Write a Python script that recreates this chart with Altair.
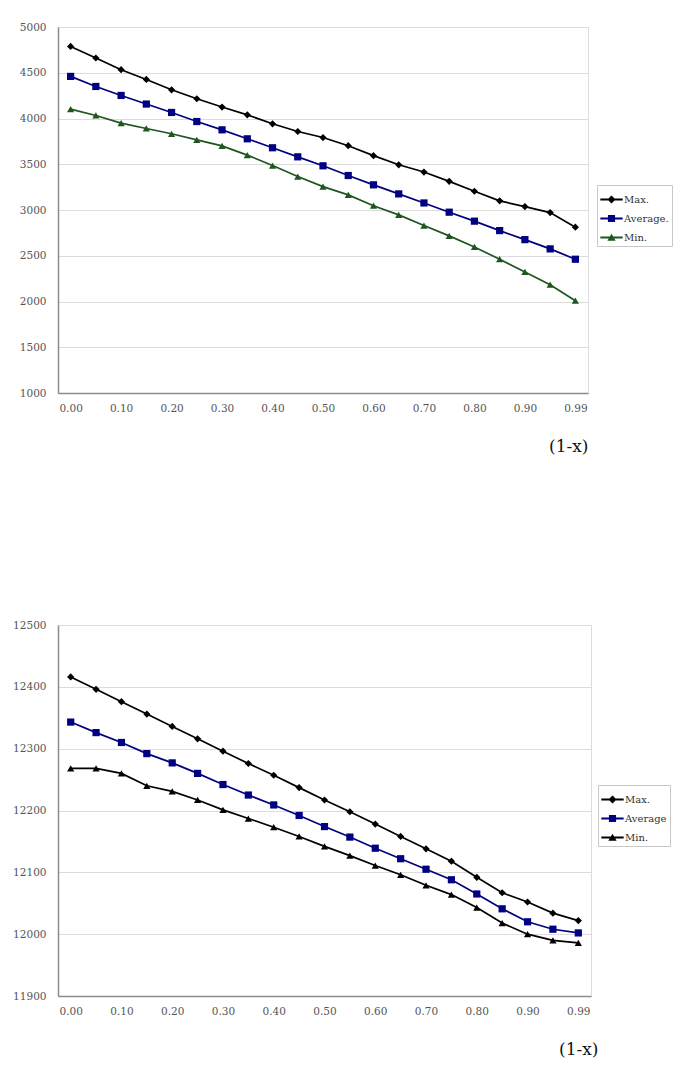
import altair as alt
import pandas as pd

x_labels = ["0.00", "0.05", "0.10", "0.15", "0.20", "0.25", "0.30", "0.35", "0.40", "0.45",
            "0.50", "0.55", "0.60", "0.65", "0.70", "0.75", "0.80", "0.85", "0.90", "0.95", "0.99"]
axis_labels = ["0.00", "0.10", "0.20", "0.30", "0.40", "0.50", "0.60", "0.70", "0.80", "0.90", "0.99"]

top_names = ["Max.", "Average.", "Min."]
top_max = [4788, 4661, 4533, 4427, 4314, 4216, 4125, 4040, 3942, 3858, 3792,
           3703, 3594, 3494, 3415, 3313, 3205, 3100, 3037, 2972, 2812]
top_avg = [4460, 4350, 4252, 4158, 4066, 3967, 3876, 3778, 3680, 3581, 3483,
           3377, 3275, 3176, 3077, 2976, 2878, 2775, 2676, 2575, 2462]
top_min = [4103, 4033, 3950, 3891, 3833, 3767, 3701, 3600, 3486, 3366, 3256,
           3165, 3047, 2947, 2830, 2717, 2596, 2462, 2323, 2184, 2009]
top_ticks = [1000, 1500, 2000, 2500, 3000, 3500, 4000, 4500, 5000]

bot_names = ["Max.", "Average", "Min."]
bot_max = [12416, 12396, 12376, 12356, 12336, 12316, 12296, 12276, 12257, 12237, 12217,
           12198, 12178, 12158, 12138, 12118, 12092, 12067, 12052, 12034, 12022]
bot_avg = [12343, 12326, 12310, 12292, 12277, 12260, 12242, 12225, 12209, 12192, 12174,
           12157, 12139, 12122, 12105, 12088, 12065, 12041, 12020, 12008, 12002]
bot_min = [12268, 12268, 12260, 12240, 12231, 12217, 12201, 12187, 12173, 12158, 12142,
           12127, 12111, 12096, 12079, 12064, 12043, 12018, 12000, 11990, 11986]
bot_ticks = [11900, 12000, 12100, 12200, 12300, 12400, 12500]

top_colors = ["#000000", "#000080", "#1f561f"]
bot_colors = ["#000000", "#000080", "#000000"]

point_shapes = ["diamond", "square", "triangle-up"]
bar = "M-1,-0.08L1,-0.08L1,0.08L-1,0.08Z"
legend_shapes = [
    bar + "M0,-0.36L0.36,0L0,0.36L-0.36,0Z",
    bar + "M-0.32,-0.32L0.32,-0.32L0.32,0.32L-0.32,0.32Z",
    bar + "M0,-0.34L0.37,0.3L-0.37,0.3Z",
]

SERIF = "DejaVu Serif"


def make_df(names, series):
    rows = []
    for name, vals in zip(names, series):
        for xv, v in zip(x_labels, vals):
            rows.append({"x": xv, "value": v, "series": name})
    return pd.DataFrame(rows)


def color_expr(names, colors):
    expr = "'" + colors[0] + "'"
    for n, c in zip(names[1:], colors[1:]):
        expr = "datum.value === '" + n + "' ? '" + c + "' : (" + expr + ")"
    return expr


def panel(df, names, colors, ticks, width, height, lx, ly, title_x):
    x = alt.X("x:O", sort=x_labels,
              scale=alt.Scale(type="point", padding=0.5),
              axis=alt.Axis(values=axis_labels, labelAngle=0, ticks=False,
                            labelPadding=10, labelFont=SERIF, labelFontSize=10.5,
                            labelColor="#555555", domainColor="#8c8c8c", domainWidth=1.5,
                            grid=False, title="(1-x)", titleFont=SERIF, titleFontSize=17,
                            titleFontWeight="normal", titleColor="#111111",
                            titleAnchor="end", titleAlign="right", titleX=title_x,
                            titleY=58, titleBaseline="alphabetic"))
    y = alt.Y("value:Q",
              scale=alt.Scale(domain=[ticks[0], ticks[-1]], nice=False, zero=False),
              axis=alt.Axis(values=ticks, format="d", ticks=False, labelPadding=12,
                            labelFont=SERIF, labelFontSize=10.5, labelColor="#555555",
                            domainColor="#8c8c8c", domainWidth=1.5, gridColor="#dcdcdc",
                            gridWidth=1, title=None))
    cscale = alt.Scale(domain=names, range=colors)
    lines = alt.Chart(df).mark_line(strokeWidth=1.7).encode(
        x=x, y=y, color=alt.Color("series:N", scale=cscale, legend=None))
    pts = alt.Chart(df).mark_point(filled=True, opacity=1, size=52).encode(
        x=x, y=y,
        color=alt.Color("series:N", scale=cscale, legend=None),
        shape=alt.Shape("series:N", scale=alt.Scale(domain=names, range=point_shapes), legend=None))
    leg = alt.Legend(title=None, orient="none", legendX=lx, legendY=ly,
                     strokeColor="#c8c8c8", padding=3, symbolSize=500,
                     symbolStrokeWidth=0, symbolOpacity=1,
                     labelFont=SERIF, labelFontSize=10, labelColor="#333333",
                     labelOffset=1, rowPadding=2)
    legend_layer = alt.Chart(df).mark_point(
        filled=True, color=alt.ExprRef(expr=color_expr(names, colors))
    ).encode(
        x=x, y=y,
        shape=alt.Shape("series:N", scale=alt.Scale(domain=names, range=legend_shapes), legend=leg),
    ).transform_filter(alt.datum.value < -1000000)
    return alt.layer(lines, pts, legend_layer).resolve_scale(shape="independent").properties(
        width=width, height=height)


top = panel(make_df(top_names, [top_max, top_avg, top_min]), top_names, top_colors,
            top_ticks, 530, 366, 539, 158, 530)
bottom = panel(make_df(bot_names, [bot_max, bot_avg, bot_min]), bot_names, bot_colors,
               bot_ticks, 533, 371, 540, 160, 540)

chart = alt.vconcat(top, bottom, spacing=164).resolve_scale(
    color="independent", shape="independent", x="independent", y="independent"
).resolve_legend(shape="independent").properties(
    padding={"top": 13, "left": 4, "right": 0, "bottom": 0}
).configure_view(stroke="#b8b8b8", strokeWidth=1.2).configure(background="white")

chart.save("out.html", embed_options={"renderer": "svg", "actions": False})
